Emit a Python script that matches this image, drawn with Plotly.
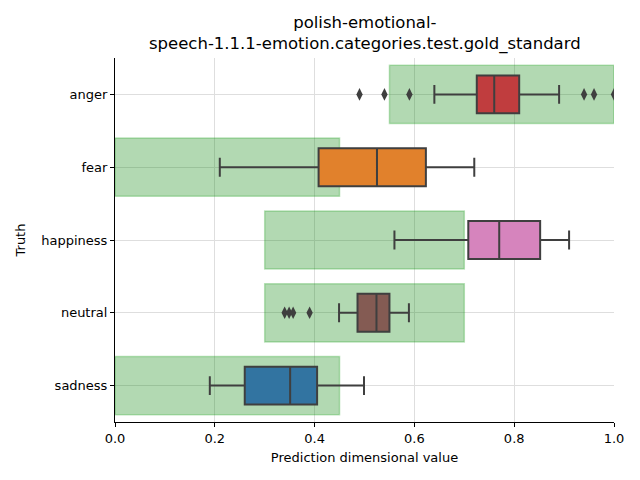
import plotly.graph_objects as go

categories = ["anger", "fear", "happiness", "neutral", "sadness"]
q1 = [0.725, 0.408, 0.708, 0.486, 0.26]
median = [0.76, 0.525, 0.77, 0.524, 0.351]
q3 = [0.81, 0.623, 0.852, 0.55, 0.405]
lowerfence = [0.64, 0.21, 0.56, 0.449, 0.19]
upperfence = [0.89, 0.72, 0.91, 0.589, 0.499]
outliers = {
    "anger": [0.49, 0.54, 0.59, 0.94, 0.96, 1.0],
    "neutral": [0.34, 0.349, 0.357, 0.39],
}
band_lo = [0.55, 0.0, 0.3, 0.3, 0.0]
band_hi = [1.0, 0.45, 0.7, 0.7, 0.45]
colors = ["#c03d3e", "#e1812c", "#d684bd", "#845b53", "#3274a1"]
xticks = [0.0, 0.2, 0.4, 0.6, 0.8, 1.0]
title_text = "polish-emotional-<br>speech-1.1.1-emotion.categories.test.gold_standard"

fig = go.Figure()

fig.add_trace(go.Bar(
    y=categories,
    x=[h - l for l, h in zip(band_lo, band_hi)],
    base=band_lo,
    orientation="h",
    width=0.8,
    marker=dict(color="rgba(0,128,0,0.3)", line=dict(color="rgba(0,150,0,0.25)", width=1.5)),
    showlegend=False,
    hoverinfo="skip",
))

for i, cat in enumerate(categories):
    fig.add_trace(go.Box(
        y=[cat],
        q1=[q1[i]], median=[median[i]], q3=[q3[i]],
        lowerfence=[lowerfence[i]], upperfence=[upperfence[i]],
        orientation="h",
        width=0.52,
        whiskerwidth=0.5,
        fillcolor=colors[i],
        line=dict(color="#3f3f3f", width=2),
        boxpoints=False,
        showlegend=False,
    ))

for cat, vals in outliers.items():
    fig.add_trace(go.Scatter(
        x=vals, y=[cat] * len(vals),
        mode="markers",
        marker=dict(symbol="diamond-tall", size=9, color="#3f3f3f"),
        showlegend=False,
    ))

fig.add_annotation(
    text=title_text, xref="paper", yref="paper", x=0.5, y=1,
    xanchor="center", yanchor="bottom", yshift=2, showarrow=False,
    font=dict(size=16.5, color="black"), align="center",
)

fig.update_layout(
    width=640, height=480,
    margin=dict(l=115, r=26, t=58, b=58),
    plot_bgcolor="white", paper_bgcolor="white",
    font=dict(family="DejaVu Sans", size=13, color="black"),
    boxmode="overlay", barmode="overlay",
    xaxis=dict(
        range=[0, 1], tickvals=xticks, ticktext=[f"{v:.1f}" for v in xticks],
        showgrid=True, gridcolor="#dedede", gridwidth=1,
        showline=True, linecolor="black", linewidth=1,
        ticks="outside", ticklen=4, tickcolor="black",
        zeroline=False,
        title=dict(text="Prediction dimensional value", font=dict(size=13), standoff=8),
    ),
    yaxis=dict(
        categoryorder="array", categoryarray=categories,
        range=[4.5, -0.5],
        showgrid=True, gridcolor="#dedede", gridwidth=1,
        showline=True, linecolor="black", linewidth=1,
        ticks="outside", ticklen=4, tickcolor="black",
        zeroline=False,
        title=dict(text="Truth", font=dict(size=13), standoff=12),
    ),
)

fig.write_html("out.html")
